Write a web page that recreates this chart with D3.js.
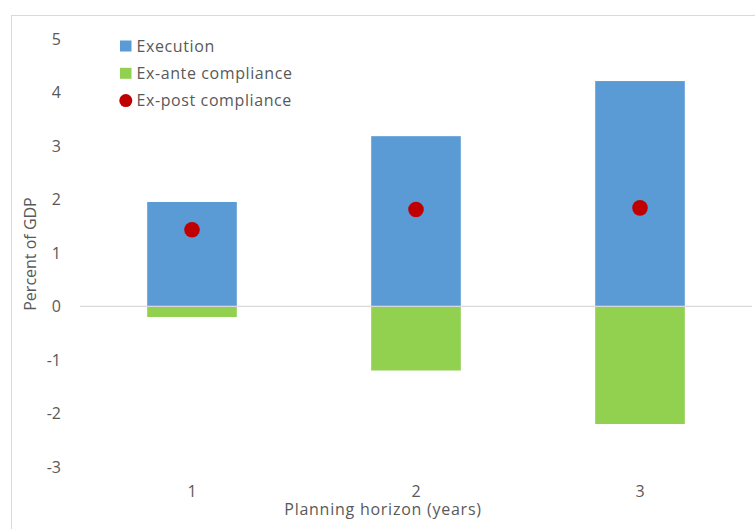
<!DOCTYPE html>
<html>
<head>
<meta charset="utf-8">
<script src="https://cdn.jsdelivr.net/npm/d3@7"></script>
<style>
  html, body { margin: 0; padding: 0; background: #fff; }
  svg { display: block; }
  text { font-family: "Open Sans", "Noto Sans", sans-serif; fill: #595959; }
</style>
</head>
<body>
<svg id="chart" width="755" height="529"></svg>
<script>
// Planning horizon categories and the three series (percent of GDP)
const horizons = ["1", "2", "3"];
const execution = [1.95, 3.18, 4.21];
const exAnte = [-0.2, -1.2, -2.2];
const exPost = [1.43, 1.81, 1.84];
const yTicks = [5, 4, 3, 2, 1, 0, -1, -2, -3];
const seriesNames = ["Execution", "Ex-ante compliance", "Ex-post compliance"];
const colors = { execution: "#5B9BD5", exAnte: "#92D050", exPost: "#C00000" };

const svg = d3.select("#chart");

// outer frame
svg.append("rect")
  .attr("x", 11.5).attr("y", 15.5)
  .attr("width", 760).attr("height", 530)
  .attr("fill", "none").attr("stroke", "#d9d9d9").attr("stroke-width", 1);

const x = d3.scaleBand()
  .domain(horizons)
  .range([80, 752])
  .paddingInner(0.6)
  .paddingOuter(0.3);

const y = d3.scaleLinear()
  .domain([-3, 5])
  .range([466.8, 38.8]);

// y-axis tick labels (plain hyphen for negatives)
const yAxis = d3.axisLeft(y).tickValues(yTicks).tickSize(0).tickPadding(0).tickFormat(d => String(d));
const gy = svg.append("g").attr("transform", "translate(61,0)").call(yAxis);
gy.select(".domain").remove();
gy.selectAll("text")
  .attr("font-size", 16)
  .attr("font-family", "'Open Sans', 'Noto Sans', sans-serif")
  .attr("fill", "#595959")
  .attr("dy", "0.35em");

// bars: execution (positive) and ex-ante compliance (negative)
const barData = [];
horizons.forEach((h, i) => {
  barData.push({ h, v: execution[i], c: colors.execution });
  barData.push({ h, v: exAnte[i], c: colors.exAnte });
});
svg.append("g").selectAll("rect")
  .data(barData)
  .join("rect")
  .attr("x", d => x(d.h))
  .attr("width", x.bandwidth())
  .attr("y", d => Math.min(y(d.v), y(0)))
  .attr("height", d => Math.abs(y(d.v) - y(0)))
  .attr("fill", d => d.c);

// zero line
svg.append("line")
  .attr("x1", 80).attr("x2", 752)
  .attr("y1", y(0)).attr("y2", y(0))
  .attr("stroke", "#d9d9d9").attr("stroke-width", 1.3);

// ex-post compliance markers
svg.append("g").selectAll("circle")
  .data(horizons.map((h, i) => ({ h, v: exPost[i] })))
  .join("circle")
  .attr("cx", d => x(d.h) + x.bandwidth() / 2)
  .attr("cy", d => y(d.v))
  .attr("r", 7.8)
  .attr("fill", colors.exPost);

// x-axis category labels
const xAxis = d3.axisBottom(x).tickSize(0).tickPadding(0);
const gx = svg.append("g").attr("transform", "translate(0,486)").call(xAxis);
gx.select(".domain").remove();
gx.selectAll("text")
  .attr("font-size", 16)
  .attr("font-family", "'Open Sans', 'Noto Sans', sans-serif")
  .attr("fill", "#595959")
  .attr("dy", "0.71em");

// axis titles
svg.append("text")
  .attr("x", 383).attr("y", 515)
  .attr("text-anchor", "middle")
  .attr("font-size", 16)
  .attr("letter-spacing", "0.75px")
  .text("Planning horizon (years)");

svg.append("text")
  .attr("transform", "translate(36,254) rotate(-90)")
  .attr("text-anchor", "middle")
  .attr("font-size", 16)
  .text("Percent of GDP");

// legend
const legend = svg.append("g");
const rows = [
  { name: seriesNames[0], color: colors.execution, shape: "rect" },
  { name: seriesNames[1], color: colors.exAnte, shape: "rect" },
  { name: seriesNames[2], color: colors.exPost, shape: "circle" }
];
rows.forEach((r, i) => {
  const cy = 46 + i * 27.3;
  if (r.shape === "rect") {
    legend.append("rect")
      .attr("x", 120).attr("y", cy - 5.5)
      .attr("width", 11.5).attr("height", 11)
      .attr("fill", r.color);
  } else {
    legend.append("circle")
      .attr("cx", 125.8).attr("cy", cy)
      .attr("r", 6.5)
      .attr("fill", r.color);
  }
  legend.append("text")
    .attr("x", 136.5).attr("y", cy)
    .attr("dy", "0.35em")
    .attr("font-size", 16)
    .attr("letter-spacing", "0.6px")
    .text(r.name);
});
</script>
</body>
</html>
